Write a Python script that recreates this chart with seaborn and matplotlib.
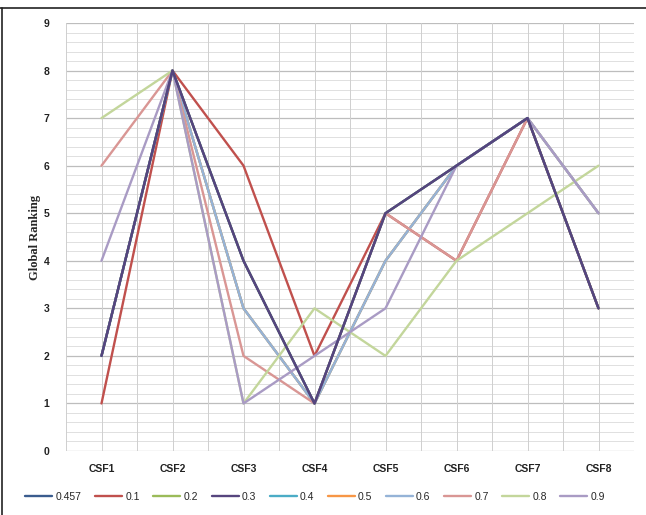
import matplotlib
matplotlib.use("Agg")
import matplotlib.pyplot as plt
import seaborn as sns
import pandas as pd
import numpy as np
from matplotlib.lines import Line2D

categories = ["CSF1", "CSF2", "CSF3", "CSF4", "CSF5", "CSF6", "CSF7", "CSF8"]
series_names = ["0.457", "0.1", "0.2", "0.3", "0.4", "0.5", "0.6", "0.7", "0.8", "0.9"]
s_0457 = [2, 8, 4, 1, 5, 6, 7, 3]
s_01 = [1, 8, 6, 2, 5, 4, 7, 3]
s_02 = [2, 8, 4, 1, 5, 6, 7, 3]
s_03 = [2, 8, 4, 1, 5, 6, 7, 3]
s_04 = [2, 8, 3, 1, 4, 6, 7, 5]
s_05 = [2, 8, 3, 1, 4, 6, 7, 5]
s_06 = [2, 8, 3, 1, 4, 6, 7, 5]
s_07 = [6, 8, 2, 1, 5, 4, 7, 3]
s_08 = [7, 8, 1, 3, 2, 4, 5, 6]
s_09 = [4, 8, 1, 2, 3, 6, 7, 5]
values = [s_0457, s_01, s_02, s_03, s_04, s_05, s_06, s_07, s_08, s_09]
colors = ["#3A5C8E", "#C0504D", "#9BBB59", "#56457E", "#4BACC6", "#F79646",
          "#95B3D7", "#D99694", "#C3D69B", "#A99BC4"]

rows = []
for name, vals in zip(series_names, values):
    for c, v in zip(categories, vals):
        rows.append({"CSF": c, "Series": name, "Rank": v})
df = pd.DataFrame(rows)

sns.set_theme(style="white")
plt.rcParams["font.family"] = ["Liberation Sans", "DejaVu Sans"]

fig = plt.figure(figsize=(6.46, 5.15), dpi=100)
ax = fig.add_axes([66/646, 1-451/515, (634-66)/646, (451-23)/515])

# grid
for y in np.arange(0, 9.01, 0.2):
    major = abs(y - round(y)) < 1e-6
    ax.axhline(y, color="#BDBDBD" if major else "#DADADA", lw=0.9 if major else 0.6, zorder=0)
for x in np.arange(-0.5, 7.51, 0.5):
    ax.axvline(x, color="#CFCFCF", lw=0.7, zorder=0)

n_before = len(ax.lines)
pal = dict(zip(series_names, colors))
sns.lineplot(data=df, x="CSF", y="Rank", hue="Series", hue_order=series_names,
             palette=pal, sort=False, lw=1.7, ax=ax, legend=False)
# put the dark series on top, as in the reference
data_lines = ax.lines[n_before:]
for ln in data_lines:
    c = matplotlib.colors.to_hex(ln.get_color()).upper()
    if c in ("#56457E", "#3A5C8E"):
        ln.set_zorder(3)

ax.set_xlim(-0.5, 7.5)
ax.set_ylim(0, 9)
ax.set_yticks(range(0, 10))
ax.set_xticks(range(len(categories)))
ax.set_xticklabels(categories)
for sp in ax.spines.values():
    sp.set_visible(False)
ax.tick_params(axis="both", length=0, labelsize=7.5)
ax.tick_params(axis="x", pad=9)
ax.tick_params(axis="y", pad=12)
for lab in ax.get_xticklabels() + ax.get_yticklabels():
    lab.set_fontweight("bold")
    lab.set_color("#222222")
ax.set_xlabel("")
ax.set_ylabel("Global Ranking", fontsize=9, fontweight="bold",
              family=["Liberation Serif", "DejaVu Serif"], labelpad=2)

handles = [Line2D([0], [0], color=c, lw=1.7) for c in colors]
fig.legend(handles, series_names, loc="center", bbox_to_anchor=(0.488, 1-497/515),
           ncol=10, frameon=False, fontsize=7.5, handlelength=2.6,
           handletextpad=0.3, columnspacing=1.3)

# chart border
fig.add_artist(Line2D([0, 1], [1-8/515, 1-8/515], color="#222222", lw=1.2, transform=fig.transFigure))
fig.add_artist(Line2D([2/646, 2/646], [0, 1-8/515], color="#222222", lw=1.2, transform=fig.transFigure))

fig.savefig("out.png", dpi=100)
